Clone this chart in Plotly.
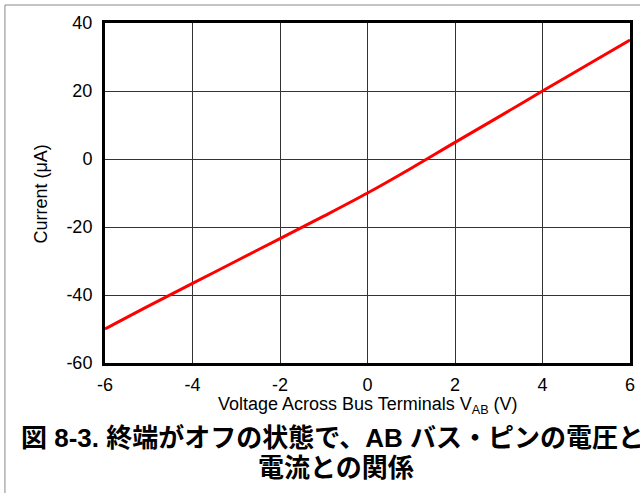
import plotly.graph_objects as go

voltage = [-6, -5, -4, -3, -2, -1, 0, 1, 2, 3, 4, 5, 6]
current = [-50, -43.2, -36.6, -30.0, -23.4, -16.8, -10.0, -2.7, 4.9, 12.4, 20.0, 27.5, 35.0]

x_ticks = [-6, -4, -2, 0, 2, 4, 6]
x_tick_labels = ["-6", "-4", "-2", "0", "2", "4", "6"]
y_ticks = [-60, -40, -20, 0, 20, 40]
y_tick_labels = ["-60", "-40", "-20", "0", "20", "40"]

x_title = "Voltage Across Bus Terminals V<sub>AB</sub> (V)"
y_title = "Current (μA)"
caption_1 = "図 8-3. 終端がオフの状態で、AB バス・ピンの電圧と"
caption_2 = "電流との関係"

W, H = 640, 493
L, R, T, B = 105, 635, 23, 363
pw, ph = R - L, B - T

def px(x):
    return (x - L) / pw

def py(y):
    return (B - y) / ph

fig = go.Figure()
fig.add_trace(go.Scatter(x=voltage, y=current, mode="lines",
                         line=dict(color="#ff0000", width=3, shape="spline"),
                         showlegend=False, hoverinfo="skip"))

axis_font = dict(family="Liberation Sans, Arial, sans-serif", size=18, color="black")

fig.update_xaxes(range=[-6, 6], tickvals=x_ticks, ticktext=x_tick_labels,
                 showgrid=True, gridcolor="#333333", gridwidth=1,
                 showline=True, linecolor="black", linewidth=3, mirror=True,
                 ticks="", tickfont=axis_font, ticklabelstandoff=3, zeroline=False, fixedrange=True)
fig.update_yaxes(range=[-60, 40], tickvals=y_ticks, ticktext=y_tick_labels,
                 showgrid=True, gridcolor="#333333", gridwidth=1,
                 showline=True, linecolor="black", linewidth=3, mirror=True,
                 ticks="", tickfont=axis_font, ticklabelstandoff=6, zeroline=False, fixedrange=True)

cap_font = dict(family="Liberation Sans, Noto Sans CJK JP, sans-serif", size=26, color="black")
fig.update_layout(
    width=W, height=H,
    margin=dict(l=L, r=W - R, t=T, b=H - B, pad=0),
    paper_bgcolor="white", plot_bgcolor="white",
    annotations=[
        dict(text=x_title, x=px(370), y=py(405), xref="paper", yref="paper",
             xanchor="center", yanchor="middle", showarrow=False, font=axis_font),
        dict(text=y_title, x=px(40), y=py(194), xref="paper", yref="paper", textangle=-90,
             xanchor="center", yanchor="middle", showarrow=False, font=axis_font),
        dict(text="<b>" + caption_1 + "</b>", x=px(18), y=py(438), xref="paper", yref="paper",
             xanchor="left", yanchor="middle", showarrow=False, font=cap_font),
        dict(text="<b>" + caption_2 + "</b>", x=px(338), y=py(468), xref="paper", yref="paper",
             xanchor="center", yanchor="middle", showarrow=False, font=cap_font),
    ],
    shapes=[
        dict(type="rect", xref="paper", yref="paper", x0=px(4), x1=px(660), y0=py(510), y1=py(5),
             line=dict(color="#888888", width=1), fillcolor="rgba(0,0,0,0)", layer="below"),
    ],
)

fig.write_html("out.html", config={"displayModeBar": False},
               post_script="document.body.style.margin='0';document.body.style.padding='0';")
